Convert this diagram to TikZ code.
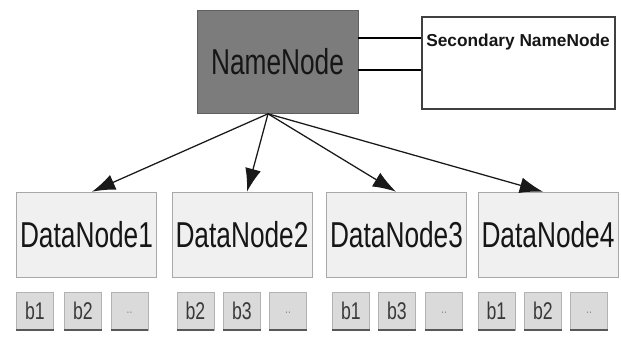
\documentclass[tikz,border=0pt]{standalone}
\usepackage{fontspec}
\setmainfont{Liberation Sans}
\newfontfamily\narrowsans[FakeStretch=0.73]{Liberation Sans}
\usetikzlibrary{arrows.meta}

\definecolor{nnfill}{RGB}{124,124,124}
\definecolor{nnline}{RGB}{96,96,96}
\definecolor{dnfill}{RGB}{240,240,240}
\definecolor{dnline}{RGB}{168,168,168}
\definecolor{blkfill}{RGB}{218,218,218}
\definecolor{blkline}{RGB}{178,178,178}
\definecolor{blkshade}{RGB}{88,88,88}
\definecolor{txt}{RGB}{22,22,22}

\tikzset{
  namebox/.style={draw=nnline, fill=nnfill, inner sep=0pt,
    minimum width=4.025cm, minimum height=2.575cm, text=txt,
    font=\narrowsans\fontsize{25.6}{28}\selectfont},
  secbox/.style={draw=black!75, fill=white, line width=0.8pt, inner sep=0pt,
    minimum width=4.825cm, minimum height=2.3cm},
  sectext/.style={inner sep=0pt, anchor=west, text=txt,
    font=\bfseries\fontsize{12.3}{14}\selectfont},
  databox/.style={draw=dnline, fill=dnfill, inner sep=0pt,
    minimum width=3.5cm, minimum height=2.125cm, text=txt,
    font=\narrowsans\fontsize{25.6}{28}\selectfont},
  blkbox/.style={draw=blkline, fill=blkfill, inner sep=0pt,
    minimum width=0.925cm, minimum height=0.95cm, text=txt!85,
    font=\narrowsans\fontsize{17.2}{19}\selectfont},
  blkshadow/.style={draw=blkshade, line width=1.4pt},
  link/.style={line width=2.1pt},
  feed/.style={draw=black!90, line width=0.9pt,
    -{Latex[length=0.58cm, width=0.4cm]}},
}

\begin{document}
\begin{tikzpicture}[x=0.025cm, y=-0.025cm]
  \useasboundingbox (0,0) rectangle (621,344); % keep the page size

  \node[namebox] (nn) at (277.5,62) {NameNode};
  \node[secbox] (sec) at (518.5,63) {};
  \node[sectext] (seclabel) at (426,42) {Secondary NameNode};

  % two links between the name nodes
  \draw[link] (nn.east |- 0,38) -- (sec.west |- 0,38);
  \draw[link] (nn.east |- 0,70) -- (sec.west |- 0,70);

  \coordinate (fan) at (268,0 |- nn.south);

  \foreach \i/\cx/\tx/\ba/\bb/\bc/\la/\lb in {
      1/86.5/92/35/83/129.5/b1/b2,
      2/242/247/195.5/242/288/b2/b3,
      3/396.5/396/351/397/444/b1/b3,
      4/548/543/496.5/543/589/b1/b2} {
    \node[databox] (dn\i) at (\cx,234.5) {DataNode\i};
    \draw[feed] (fan) -- (\tx,0 |- dn\i.north);
    \node[blkbox] (blk\i a) at (\ba,311) {\la};
    \node[blkbox] (blk\i b) at (\bb,311) {\lb};
    \node[blkbox, text=black!45] (blk\i c) at (\bc,311)
      {\raisebox{-0.45ex}{\fontsize{10}{10}\selectfont..}};
    \foreach \k in {a,b,c}
      \draw[blkshadow] (blk\i\k.south west) -- (blk\i\k.south east);
  }
\end{tikzpicture}
\end{document}
